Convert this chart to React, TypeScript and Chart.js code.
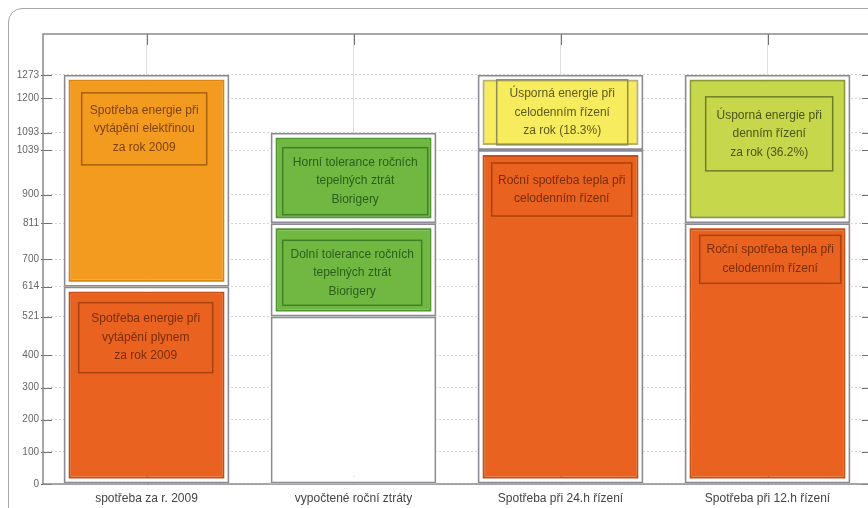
import React, { useEffect, useRef } from "react";
import { Chart, registerables } from "chart.js";

Chart.register(...registerables);

const categories = [
  "spotřeba za r. 2009",
  "vypočtené roční ztráty",
  "Spotřeba při 24.h řízení",
  "Spotřeba při 12.h řízení",
];

const yTickValues = [0, 100, 200, 300, 400, 521, 614, 700, 811, 900, 1039, 1093, 1200, 1273];
const yMax = 1400;

// segment boundaries per category (bottom -> top)
const bound0 = [0, 0, 0, 0];
const bound1 = [614, 521, 1039, 811];
const bound2 = [1273, 811, 1273, 1273];
const bound3: (number | null)[] = [null, 1093, null, null];

const texts0: (string[] | null)[] = [
  ["Spotřeba energie při", "vytápění plynem", "za rok 2009"],
  null,
  ["Roční spotřeba tepla při", "celodenním řízení"],
  ["Roční spotřeba tepla při", "celodenním řízení"],
];
const texts1: (string[] | null)[] = [
  ["Spotřeba energie při", "vytápění elektřinou", "za rok 2009"],
  ["Dolní tolerance ročních", "tepelných ztrát", "Biorigery"],
  ["Úsporná energie při", "celodenním řízení", "za rok (18.3%)"],
  ["Úsporná energie při", "denním řízení", "za rok (36.2%)"],
];
const texts2: (string[] | null)[] = [
  null,
  ["Horní tolerance ročních", "tepelných ztrát", "Biorigery"],
  null,
  null,
];

// styles
const PAL: Record<string, { fill: string; ring: string; box: string; text: string }> = {
  dorange: { fill: "#E9621F", ring: "#C44F16", box: "#A8420F", text: "#7A2C08" },
  orange: { fill: "#F39B1F", ring: "#D98614", box: "#A9600C", text: "#7D430A" },
  green: { fill: "#71B843", ring: "#4E962F", box: "#3E8226", text: "#2C5E1A" },
  yellow: { fill: "#F7EB5E", ring: "#B8B070", box: "#8F8B55", text: "#5E5A1E" },
  ygreen: { fill: "#C6D74B", ring: "#899A36", box: "#6E7E27", text: "#4A5618" },
  empty: { fill: "#FFFFFF", ring: "#FFFFFF", box: "#FFFFFF", text: "#000000" },
};
const kinds0 = ["dorange", "empty", "dorange", "dorange"];
const kinds1 = ["orange", "green", "yellow", "ygreen"];
const kinds2 = [null, "green", null, null];

type Box = { dx: number; dy: number; w: number; h: number } | null;
const boxes0: Box[] = [
  { dx: 15, dy: 16, w: 134, h: 70 },
  null,
  { dx: 14, dy: 13, w: 140, h: 53 },
  { dx: 15, dy: 12, w: 141, h: 48 },
];
const boxes1: Box[] = [
  { dx: 18, dy: 18, w: 125, h: 72 },
  { dx: 12, dy: 17, w: 139, h: 65 },
  { dx: 19, dy: 5, w: 131, h: 65 },
  { dx: 21, dy: 22, w: 127, h: 74 },
];
const boxes2: Box[] = [null, { dx: 12, dy: 15, w: 145, h: 67 }, null, null];

const levels = [
  { lo: bound0, hi: bound1, kinds: kinds0, texts: texts0, boxes: boxes0 },
  { lo: bound1, hi: bound2, kinds: kinds1, texts: texts1, boxes: boxes1 },
  { lo: bound2, hi: bound3, kinds: kinds2, texts: texts2, boxes: boxes2 },
];

const FONT = "'Liberation Sans', Arial, sans-serif";

export default function App() {
  const ref = useRef<HTMLCanvasElement | null>(null);

  useEffect(() => {
    if (!ref.current) return;
    const datasets: any[] = [];
    const fillIdx: number[] = [];
    levels.forEach((lv, L) => {
      const data = categories.map((_, i) =>
        lv.hi[i] == null ? null : [lv.lo[i] as number, lv.hi[i] as number]
      );
      const kinds = lv.kinds.map((k) => (k ? PAL[k] : PAL.empty));
      const common = {
        data,
        grouped: false,
        barPercentage: 0.8,
        categoryPercentage: 1,
        borderSkipped: false,
      };
      fillIdx.push(datasets.length);
      datasets.push({
        ...common,
        label: "fill" + L,
        backgroundColor: kinds.map((k) => k.fill),
        borderColor: kinds.map((k) => k.ring),
        borderWidth: 7,
        order: 30,
      });
      datasets.push({
        ...common,
        label: "white" + L,
        backgroundColor: "rgba(0,0,0,0)",
        borderColor: "#FFFFFF",
        borderWidth: 5,
        order: 20,
      });
      datasets.push({
        ...common,
        label: "outline" + L,
        backgroundColor: "rgba(0,0,0,0)",
        borderColor: "#8A8A96",
        borderWidth: 1.7,
        order: 10,
      });
    });

    const framePlugin = {
      id: "frameTicks",
      beforeDatasetsDraw(chart: any) {
        const { ctx, chartArea: a, scales } = chart;
        const ys = scales.y;
        const xs = scales.x;
        ctx.save();
        ctx.strokeStyle = "#6f6f6f";
        ctx.lineWidth = 1;
        yTickValues.forEach((v) => {
          const py = Math.round(ys.getPixelForValue(v)) + 0.5;
          ctx.beginPath();
          ctx.moveTo(a.left - 2, py);
          ctx.lineTo(a.left + 9, py);
          ctx.moveTo(a.right, py);
          ctx.lineTo(a.right - 9, py);
          ctx.stroke();
        });
        categories.forEach((_, i) => {
          const px = Math.round(xs.getPixelForValue(i)) + 0.5;
          ctx.beginPath();
          ctx.moveTo(px, a.top);
          ctx.lineTo(px, a.top + 11);
          ctx.moveTo(px, a.bottom);
          ctx.lineTo(px, a.bottom - 11);
          ctx.stroke();
        });
        ctx.strokeStyle = "#8a8a8a";
        ctx.lineWidth = 1.5;
        ctx.strokeRect(a.left, a.top, a.right - a.left, a.bottom - a.top);
        ctx.restore();
      },
    };

    const labelPlugin = {
      id: "segLabels",
      afterDatasetsDraw(chart: any) {
        const { ctx } = chart;
        ctx.save();
        levels.forEach((lv, L) => {
          const meta = chart.getDatasetMeta(fillIdx[L]);
          meta.data.forEach((el: any, i: number) => {
            const lines = lv.texts[i];
            const bx = lv.boxes[i];
            const k = lv.kinds[i];
            if (!lines || !bx || !k) return;
            const st = PAL[k];
            const left = el.x - el.width / 2;
            const top = Math.min(el.y, el.base);
            const x0 = left + bx.dx;
            const y0 = top + bx.dy;
            ctx.strokeStyle = st.box;
            ctx.lineWidth = 1.5;
            ctx.strokeRect(x0, y0, bx.w, bx.h);
            ctx.fillStyle = st.text;
            ctx.font = "12px " + FONT;
            ctx.textAlign = "center";
            ctx.textBaseline = "middle";
            const cx = x0 + bx.w / 2;
            const cy = y0 + bx.h / 2;
            const lh = 18.5;
            lines.forEach((t, j) => {
              ctx.fillText(t, cx, cy + (j - (lines.length - 1) / 2) * lh);
            });
          });
        });
        ctx.restore();
      },
    };

    const chart = new Chart(ref.current, {
      type: "bar",
      data: { labels: categories, datasets },
      plugins: [framePlugin, labelPlugin],
      options: {
        animation: false,
        responsive: false,
        maintainAspectRatio: false,
        layout: { padding: { top: 34, right: 9, left: 0, bottom: 0 } },
        plugins: { legend: { display: false }, tooltip: { enabled: false } },
        scales: {
          x: {
            type: "category",
            offset: true,
            grid: {
              offset: false,
              color: "#dedede",
              lineWidth: 1,
              drawTicks: false,
            },
            border: { display: false },
            ticks: {
              color: "#444",
              padding: 7,
              font: { family: FONT, size: 12 },
              maxRotation: 0,
              autoSkip: false,
            },
            afterFit: (s: any) => {
              s.height = 24;
            },
          },
          y: {
            type: "linear",
            min: 0,
            max: yMax,
            afterBuildTicks: (s: any) => {
              s.ticks = yTickValues.map((v) => ({ value: v }));
            },
            grid: { color: "#d6d6d6", lineWidth: 1, drawTicks: false },
            border: { display: false, dash: [2, 2] },
            ticks: {
              color: "#666",
              padding: 4,
              font: { family: FONT, size: 10 },
              callback: (v: any) => String(v),
              autoSkip: false,
            },
            afterFit: (s: any) => {
              s.width = 43;
            },
          },
        },
      } as any,
    });
    return () => chart.destroy();
  }, []);

  return (
    <div
      style={{
        position: "fixed",
        left: 0,
        top: 0,
        width: 868,
        height: 508,
        overflow: "hidden",
        background: "#fff",
      }}
    >
      <div
        style={{
          position: "absolute",
          left: 8,
          top: 8,
          width: 920,
          height: 560,
          border: "1px solid #a8a8a8",
          borderRadius: 14,
          boxSizing: "border-box",
        }}
      />
      <canvas
        ref={ref}
        width={880}
        height={508}
        style={{ position: "absolute", left: 0, top: 0, width: 880, height: 508 }}
      />
    </div>
  );
}
